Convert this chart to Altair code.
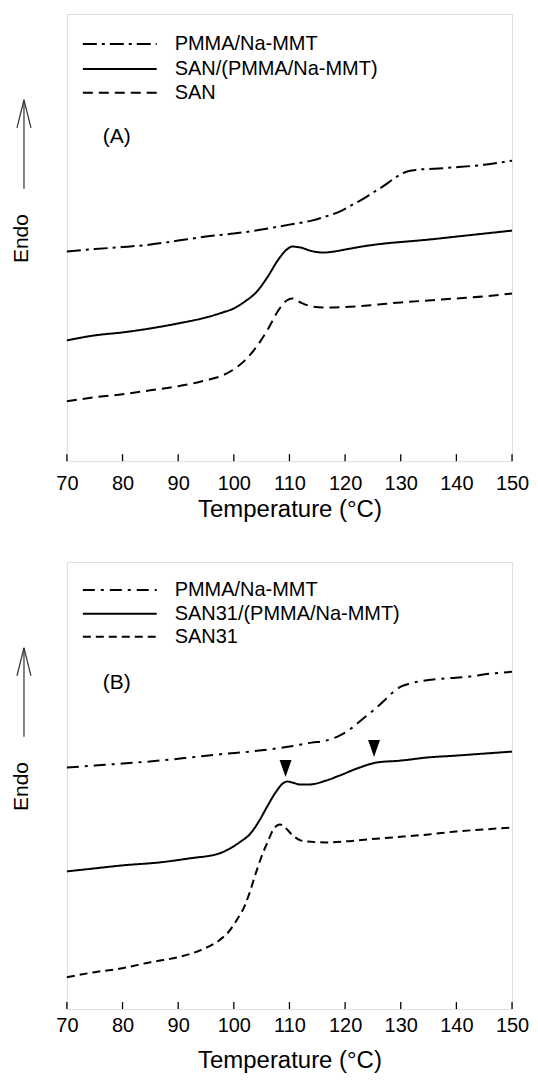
import altair as alt
import pandas as pd

# ---------------- data ----------------
X_TICKS = [70, 80, 90, 100, 110, 120, 130, 140, 150]

A_SERIES = ["PMMA/Na-MMT", "SAN/(PMMA/Na-MMT)", "SAN"]
B_SERIES = ["PMMA/Na-MMT", "SAN31/(PMMA/Na-MMT)", "SAN31"]

# Panel A
A_pmma_T = [70, 75, 80, 85, 90, 95, 100, 105, 110, 114, 117, 119, 121, 123, 125, 127, 129, 131, 133, 136, 140, 145, 150]
A_pmma_v = [21.0, 21.25, 21.45, 21.7, 22.1, 22.5, 22.8, 23.2, 23.7, 24.1, 24.6, 25.0, 25.6, 26.2, 26.9, 27.6, 28.4, 29.0, 29.2, 29.3, 29.45, 29.7, 30.1]

A_blend_T = [70, 75, 80, 85, 90, 95, 98, 100, 102, 104, 106, 108, 109.5, 110.5, 112, 114, 116, 118, 120, 123, 127, 131, 135, 140, 145, 150]
A_blend_v = [12.1, 12.6, 12.9, 13.3, 13.8, 14.4, 14.9, 15.3, 16.0, 16.9, 18.4, 20.2, 21.2, 21.5, 21.4, 21.05, 20.9, 21.0, 21.2, 21.5, 21.8, 22.0, 22.2, 22.5, 22.8, 23.1]

A_san_T = [70, 75, 80, 85, 90, 95, 98, 100, 102, 104, 106, 108, 109.5, 110.5, 112, 114, 116, 118, 122, 126, 130, 135, 140, 145, 150]
A_san_v = [6.0, 6.4, 6.7, 7.1, 7.5, 8.1, 8.6, 9.2, 10.1, 11.4, 13.1, 15.1, 16.1, 16.3, 15.9, 15.5, 15.4, 15.4, 15.5, 15.7, 15.9, 16.1, 16.3, 16.5, 16.8]

# Panel B
B_pmma_T = [70, 75, 80, 86.7, 92, 97, 104.6, 110, 114, 116.6, 119, 121.3, 123, 125, 127, 128.5, 130, 131.5, 134, 137.5, 142, 146, 150]
B_pmma_v = [24.2, 24.4, 24.6, 24.9, 25.2, 25.5, 25.9, 26.3, 26.7, 26.9, 27.4, 28.2, 29.0, 29.9, 30.9, 31.7, 32.3, 32.6, 32.9, 33.1, 33.3, 33.6, 33.8]

B_blend_T = [70, 75, 80, 86.7, 92, 97.4, 99, 101, 103, 104.6, 106, 107.5, 108.8, 109.6, 110.5, 112, 113.5, 116.6, 119, 122.6, 125.6, 130, 134.6, 140, 145, 150]
B_blend_v = [13.8, 14.1, 14.4, 14.7, 15.1, 15.6, 16.0, 16.7, 17.6, 18.9, 20.3, 21.7, 22.6, 22.8, 22.7, 22.5, 22.5, 22.9, 23.4, 24.2, 24.7, 24.9, 25.2, 25.4, 25.6, 25.8]

B_san_T = [70, 75, 80, 85, 90, 94, 97.4, 99, 100.5, 102, 102.8, 104, 105.2, 106.2, 107, 107.8, 108.3, 109, 110.6, 112, 113, 116.6, 120, 124, 128.5, 135, 140, 145, 150]
B_san_v = [3.2, 3.7, 4.1, 4.7, 5.2, 5.9, 6.9, 7.7, 8.9, 10.4, 11.6, 13.7, 15.6, 16.9, 17.9, 18.4, 18.5, 18.3, 17.4, 16.9, 16.8, 16.7, 16.8, 17.0, 17.2, 17.5, 17.8, 18.0, 18.2]

# Transition markers (arrowheads) in panel B
B_mark_T = [109.3, 125.2]
B_mark_v = [24.1, 26.1]

# ---------------- layout / style ----------------
W, H = 446, 448
FONT = "Liberation Sans"
Y_DOMAIN = [0, 44.8]

A_DASHES = [[14, 5, 3, 5], [1, 0], [10, 6]]
B_DASHES = [[12, 6, 3, 6], [1, 0], [8, 5]]


def panel(series, temps, vals, dashes, tag, leg_rows, tag_y, label_pad, title_pad, marks=None):
    rows = []
    for name, ts, vs in zip(series, temps, vals):
        for t, v in zip(ts, vs):
            rows.append({"series": name, "T": t, "v": v})
    df = pd.DataFrame(rows)

    xenc = alt.X(
        "T:Q",
        scale=alt.Scale(domain=[70, 150], nice=False, zero=False),
        axis=alt.Axis(
            values=X_TICKS, format="d", title="Temperature (°C)",
            ticks=False, domain=False, grid=False,
            labelFontSize=20, titleFontSize=24, labelFont=FONT, titleFont=FONT,
            labelColor="black", titleColor="black", titleFontWeight="normal",
            labelPadding=label_pad, titlePadding=title_pad, labelFlush=False,
        ),
    )
    yenc = alt.Y("v:Q", scale=alt.Scale(domain=Y_DOMAIN, nice=False, zero=False), axis=None)

    lines = alt.Chart(df).mark_line(color="black", strokeWidth=2, interpolate="monotone").encode(
        x=xenc, y=yenc,
        strokeDash=alt.StrokeDash("series:N", scale=alt.Scale(domain=series, range=dashes), legend=None),
    )

    ticks = alt.Chart(pd.DataFrame({"T": X_TICKS})).mark_rule(color="black", strokeWidth=1.3).encode(
        x="T:Q", y=alt.value(H), y2=alt.value(H - 7)
    )

    layers = [lines, ticks]

    # legend drawn inside the frame
    for i, name in enumerate(series):
        ldf = pd.DataFrame({"series": [name]})
        layers.append(
            alt.Chart(ldf).mark_rule(color="black", strokeWidth=2, strokeDash=dashes[i]).encode(
                x=alt.value(16), x2=alt.value(90), y=alt.value(leg_rows[i])
            )
        )
        layers.append(
            alt.Chart(ldf).mark_text(align="left", baseline="middle", fontSize=20, font=FONT, color="black").encode(
                x=alt.value(108), y=alt.value(leg_rows[i]), text="series:N"
            )
        )

    tdf = pd.DataFrame({"tag": [tag]})
    layers.append(
        alt.Chart(tdf).mark_text(align="center", baseline="middle", fontSize=21, font=FONT, color="black").encode(
            x=alt.value(50), y=alt.value(tag_y), text="tag:N"
        )
    )

    # "Endo" label with upward arrow
    edf = pd.DataFrame({"lab": ["Endo"]})
    layers.append(
        alt.Chart(edf).mark_text(angle=270, align="center", baseline="middle", fontSize=21, font=FONT, color="black").encode(
            x=alt.value(-45), y=alt.value(225), text="lab:N"
        )
    )
    layers.append(alt.Chart(edf).mark_rule(color="#333", strokeWidth=1.2).encode(
        x=alt.value(-43), x2=alt.value(-43), y=alt.value(175), y2=alt.value(86)))
    layers.append(alt.Chart(edf).mark_rule(color="#333", strokeWidth=1.2).encode(
        x=alt.value(-43), x2=alt.value(-50), y=alt.value(86), y2=alt.value(114)))
    layers.append(alt.Chart(edf).mark_rule(color="#333", strokeWidth=1.2).encode(
        x=alt.value(-43), x2=alt.value(-36), y=alt.value(86), y2=alt.value(114)))

    if marks is not None:
        mdf = pd.DataFrame({"T": marks[0], "v": marks[1]})
        layers.append(
            alt.Chart(mdf).mark_point(shape="M-0.7,-1L0.7,-1L0,1Z", size=289, filled=True, color="black", opacity=1).encode(
                x="T:Q", y="v:Q"
            )
        )

    return alt.layer(*layers).properties(width=W, height=H)


panel_a = panel(
    A_SERIES, [A_pmma_T, A_blend_T, A_san_T], [A_pmma_v, A_blend_v, A_san_v],
    A_DASHES, "(A)", [30, 55, 79], 123, 12, 4,
)
panel_b = panel(
    B_SERIES, [B_pmma_T, B_blend_T, B_san_T], [B_pmma_v, B_blend_v, B_san_v],
    B_DASHES, "(B)", [28, 52, 75], 121, 6, 14,
    marks=(B_mark_T, B_mark_v),
)

chart = alt.vconcat(panel_a, panel_b, spacing=39).resolve_scale(
    strokeDash="independent"
).properties(
    padding={"left": 2, "top": 4, "right": 0, "bottom": 0}
).configure_view(stroke="black", strokeWidth=1.6).configure(background="white")

chart.save("out.html", embed_options={"renderer": "svg", "actions": False})
